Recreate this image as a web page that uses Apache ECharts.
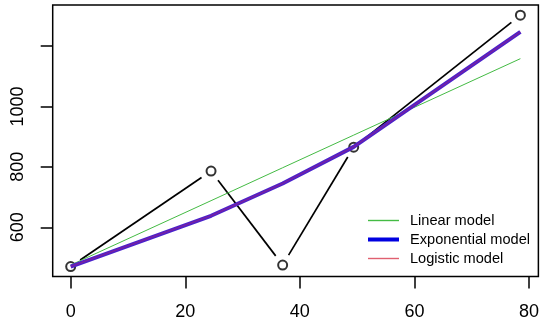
<!DOCTYPE html>
<html>
<head>
<meta charset="utf-8">
<script src="https://cdn.jsdelivr.net/npm/echarts@6/dist/echarts.min.js"></script>
<style>
html,body{margin:0;padding:0;background:#fff;}
#c{width:542px;height:327px;}
</style>
</head>
<body>
<div id="c"></div>
<script>
// Observed data
const xValues = [0, 24.5, 37, 49.4, 78.5];
const observed = [470, 786, 475, 865, 1302];
// Model fitted values at the same x
const linearFit = [475, 688, 797, 905, 1158];
const exponentialFit = [470, 638, 745, 866, 1247];
const logisticFit = [470, 638, 745, 866, 1247];
// Axis ticks
const xTicks = [0, 20, 40, 60, 80];
const yTicks = [600, 800, 1000, 1200];
const yTickLabels = [600, 800, 1000];
const legendNames = ['Linear model', 'Exponential model', 'Logistic model'];

const pairs = (xs, ys) => xs.map((x, i) => [x, ys[i]]);
const segs = [];
for (let i = 0; i < xValues.length - 1; i++) {
  segs.push([xValues[i], observed[i], xValues[i + 1], observed[i + 1]]);
}

const chart = echarts.init(document.getElementById('c'), null, {renderer: 'canvas'});
const FONT = 'Liberation Sans, Arial, sans-serif';
chart.setOption({
  animation: false,
  backgroundColor: '#fff',
  grid: {left: 52.7, top: 5.1, width: 494.6, height: 271.5, show: true,
         borderColor: '#000', borderWidth: 1.5, backgroundColor: 'transparent'},
  xAxis: {
    type: 'value', min: -3.14, max: 81.64,
    splitLine: {show: false},
    axisLine: {show: false, onZero: false},
    axisTick: {show: true, length: 12, lineStyle: {color: '#000', width: 1.5}, customValues: xTicks},
    axisLabel: {color: '#000', fontSize: 18, fontFamily: FONT, margin: 26, customValues: xTicks,
                formatter: v => String(v)}
  },
  yAxis: {
    type: 'value', min: 436.7, max: 1335.3,
    splitLine: {show: false},
    axisLine: {show: false, onZero: false},
    axisTick: {show: true, length: 12, lineStyle: {color: '#000', width: 1.5}, customValues: yTicks},
    axisLabel: {color: '#000', fontSize: 18, fontFamily: FONT, margin: 26, rotate: 90,
                customValues: yTickLabels, formatter: v => String(v)}
  },
  legend: {
    orient: 'vertical', left: 361, top: 208, itemWidth: 31, itemHeight: 14, itemGap: 4,
    itemStyle: {opacity: 0},
    textStyle: {color: '#000', fontSize: 14.6, fontFamily: FONT, lineHeight: 15, padding: [0, 0, 0, 6]},
    data: [
      {name: legendNames[0], lineStyle: {color: '#44bb44', width: 1.4}},
      {name: legendNames[1], lineStyle: {color: '#0000e0', width: 4}},
      {name: legendNames[2], lineStyle: {color: '#e06070', width: 1.4}}
    ]
  },
  series: [
    {
      type: 'custom', name: 'observed-line', z: 3,
      data: segs,
      renderItem: function (params, api) {
        const p0 = api.coord([api.value(0), api.value(1)]);
        const p1 = api.coord([api.value(2), api.value(3)]);
        const dx = p1[0] - p0[0], dy = p1[1] - p0[1];
        const L = Math.sqrt(dx * dx + dy * dy);
        const g = 11.5;
        const ux = dx / L, uy = dy / L;
        return {
          type: 'line',
          shape: {x1: p0[0] + ux * g, y1: p0[1] + uy * g, x2: p1[0] - ux * g, y2: p1[1] - uy * g},
          style: {stroke: '#000', lineWidth: 1.7}
        };
      }
    },
    {
      type: 'scatter', name: 'observed', z: 3,
      data: pairs(xValues, observed),
      symbol: 'circle', symbolSize: 9,
      itemStyle: {color: 'rgba(0,0,0,0)', borderColor: '#000', borderWidth: 2}
    },
    {
      type: 'line', name: legendNames[0], z: 4,
      data: pairs(xValues, linearFit),
      symbol: 'none', lineStyle: {color: '#44bb44', width: 1},
      itemStyle: {color: '#44bb44'}
    },
    {
      type: 'line', name: legendNames[1], z: 5,
      data: pairs(xValues, exponentialFit),
      symbol: 'none', lineStyle: {color: '#4a22cc', width: 4},
      itemStyle: {color: '#0000e0'}
    },
    {
      type: 'line', name: legendNames[2], z: 6,
      data: pairs(xValues, logisticFit),
      symbol: 'none', lineStyle: {color: 'rgba(200,30,90,0.35)', width: 1.5},
      itemStyle: {color: '#e06070'}
    }
  ]
});
</script>
</body>
</html>
